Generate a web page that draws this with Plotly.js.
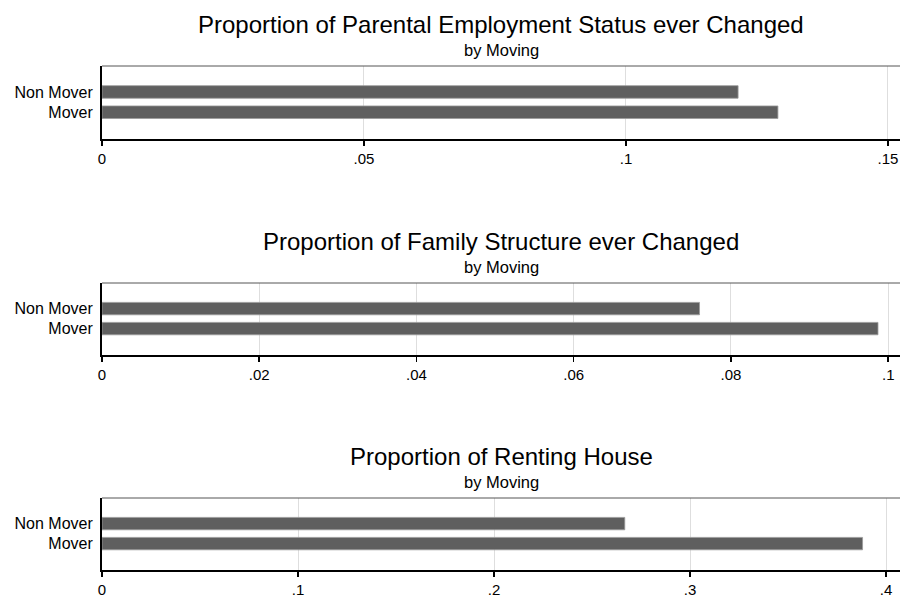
<!DOCTYPE html>
<html>
<head>
<meta charset="utf-8">
<script src="https://cdn.plot.ly/plotly-3.0.1.min.js"></script>
<style>
  html, body { margin: 0; padding: 0; background: #ffffff; }
  #chart { width: 901px; height: 606px; }
</style>
</head>
<body>
<div id="chart"></div>
<script>
// ---- data ----
const categories = ['Non Mover', 'Mover'];
const employmentChanged = [0.1214, 0.1290];
const familyChanged = [0.0760, 0.0987];
const rentingHouse = [0.2667, 0.3880];

const panelTitles = [
  'Proportion of Parental Employment Status ever Changed',
  'Proportion of Family Structure ever Changed',
  'Proportion of Renting House'
];
const subtitle = 'by Moving';

const tickVals1 = [0, 0.05, 0.1, 0.15];
const tickText1 = ['0', '.05', '.1', '.15'];
const tickVals2 = [0, 0.02, 0.04, 0.06, 0.08, 0.1];
const tickText2 = ['0', '.02', '.04', '.06', '.08', '.1'];
const tickVals3 = [0, 0.1, 0.2, 0.3, 0.4];
const tickText3 = ['0', '.1', '.2', '.3', '.4'];

// ---- geometry (pixels) ----
const W = 901, H = 606;
const plotLeft = 102, plotRight = 900;
const panels = [
  { top: 66, bottom: 139, xmax: 0.1523, vals: employmentChanged, tv: tickVals1, tt: tickText1 },
  { top: 283, bottom: 355, xmax: 0.1015, vals: familyChanged, tv: tickVals2, tt: tickText2 },
  { top: 498, bottom: 570, xmax: 0.4071, vals: rentingHouse, tv: tickVals3, tt: tickText3 }
];

const FONT = 'Liberation Sans, Arial, sans-serif';
const traces = [];
const layout = {
  width: W, height: H,
  margin: { l: 0, r: 0, t: 0, b: 0 },
  paper_bgcolor: '#ffffff',
  plot_bgcolor: '#ffffff',
  showlegend: false,
  font: { family: FONT, color: '#000000' },
  annotations: [],
  shapes: []
};

panels.forEach((p, i) => {
  const n = i + 1;
  const xa = n === 1 ? 'x' : 'x' + n;
  const ya = n === 1 ? 'y' : 'y' + n;
  const xk = n === 1 ? 'xaxis' : 'xaxis' + n;
  const yk = n === 1 ? 'yaxis' : 'yaxis' + n;

  traces.push({
    type: 'bar',
    orientation: 'h',
    x: p.vals,
    y: categories,
    xaxis: xa, yaxis: ya,
    width: 0.62,
    marker: { color: '#5f5f5f', line: { color: '#9a9a9a', width: 0.8 } },
    hoverinfo: 'x+y'
  });

  layout[xk] = {
    domain: [plotLeft / W, plotRight / W],
    anchor: ya,
    range: [0, p.xmax],
    tickvals: p.tv,
    ticktext: p.tt,
    ticks: 'outside',
    ticklen: 5,
    tickwidth: 1.5,
    tickcolor: '#000000',
    showline: true,
    linecolor: '#000000',
    linewidth: 2,
    showgrid: true,
    gridcolor: '#dedede',
    gridwidth: 1,
    zeroline: false,
    tickfont: { family: FONT, size: 15, color: '#000000' },
    fixedrange: true
  };
  layout[yk] = {
    domain: [(H - p.bottom) / H, (H - p.top) / H],
    anchor: xa,
    type: 'category',
    categoryorder: 'array',
    categoryarray: categories,
    range: [2.32, -1.28],
    showline: true,
    linecolor: '#000000',
    linewidth: 2,
    showgrid: false,
    zeroline: false,
    ticks: '',
    ticklabelstandoff: 4,
    tickfont: { family: FONT, size: 16, color: '#000000' },
    fixedrange: true
  };

  // top border of plot region
  layout.shapes.push({
    type: 'line', xref: xa + ' domain', yref: ya + ' domain',
    x0: 0, x1: 1, y0: 1, y1: 1,
    line: { color: '#555555', width: 1 }
  });

  const cx = ((plotLeft + plotRight) / 2) / W;
  layout.annotations.push({
    text: panelTitles[i], xref: 'paper', yref: 'paper',
    x: cx, y: (H - (p.top - 42)) / H, xanchor: 'center', yanchor: 'middle',
    showarrow: false, font: { family: FONT, size: 24, color: '#000000' }
  });
  layout.annotations.push({
    text: subtitle, xref: 'paper', yref: 'paper',
    x: cx, y: (H - (p.top - 16)) / H, xanchor: 'center', yanchor: 'middle',
    showarrow: false, font: { family: FONT, size: 16.5, color: '#000000' }
  });
});

Plotly.newPlot('chart', traces, layout, { displayModeBar: false, staticPlot: true });
</script>
</body>
</html>
